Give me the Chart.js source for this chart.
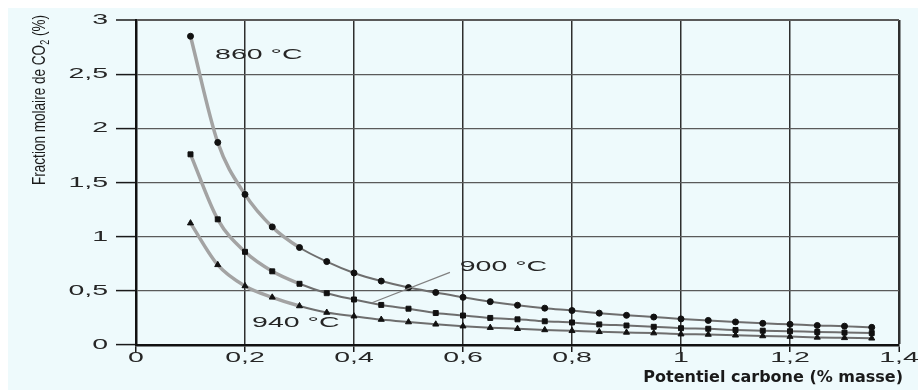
<!DOCTYPE html>
<html>
<head>
<meta charset="utf-8">
<title>Fraction molaire de CO2</title>
<script src="https://cdn.jsdelivr.net/npm/chart.js@4/dist/chart.umd.min.js"></script>
<style>
  html, body { margin: 0; padding: 0; background: #ffffff; }
  canvas { display: block; }
</style>
</head>
<body>
<canvas id="co2Chart" width="921" height="390"></canvas>
<script>
// carbon potential (% mass) of each measured point
const carbon = [0.1, 0.15, 0.2, 0.25, 0.3, 0.35, 0.4, 0.45, 0.5, 0.55, 0.6, 0.65, 0.7,
                0.75, 0.8, 0.85, 0.9, 0.95, 1.0, 1.05, 1.1, 1.15, 1.2, 1.25, 1.3, 1.35];

// CO2 molar fraction (%) for each temperature
const co2At860 = [2.85, 1.87, 1.39, 1.09, 0.90, 0.77, 0.665, 0.59, 0.53, 0.485, 0.44, 0.40, 0.367,
                  0.34, 0.318, 0.294, 0.274, 0.258, 0.241, 0.227, 0.213, 0.20, 0.191, 0.18, 0.174, 0.163];
const co2At900 = [1.76, 1.16, 0.86, 0.68, 0.565, 0.478, 0.42, 0.37, 0.335, 0.295, 0.272, 0.25, 0.237,
                  0.219, 0.208, 0.19, 0.18, 0.168, 0.155, 0.15, 0.139, 0.132, 0.127, 0.12, 0.115, 0.11];
const co2At940 = [1.125, 0.74, 0.545, 0.44, 0.36, 0.30, 0.266, 0.235, 0.212, 0.191, 0.174, 0.16, 0.15,
                  0.139, 0.131, 0.122, 0.116, 0.11, 0.10, 0.097, 0.09, 0.083, 0.078, 0.07, 0.066, 0.062];

const xTicks = [0, 0.2, 0.4, 0.6, 0.8, 1, 1.2, 1.4];
const yTicks = [0, 0.5, 1, 1.5, 2, 2.5, 3];

const xTitle = "Potentiel carbone (% masse)";
const yTitle = ["Fraction molaire de CO", "2", " (%)"];

// curve labels, anchored in data units (left edge, vertical middle)
const curveLabels = [
  { text: "860 °C", x: 0.145, y: 2.68 },
  { text: "900 °C", x: 0.594, y: 0.72 },
  { text: "940 °C", x: 0.213, y: 0.205 }
];
// leader line from the 900 °C label down to its curve
const leader = { from: [0.576, 0.67], to: [0.433, 0.39] };

const WIDE = 1.9; // horizontal stretch for the extended lettering

function toPoints(values) {
  return carbon.map((c, i) => ({ x: c, y: values[i] }));
}

function frNumber(v) {
  return String(Math.round(v * 10) / 10).replace(".", ",");
}

function wideText(ctx, text, x, y, align) {
  ctx.save();
  ctx.translate(x, y);
  ctx.scale(WIDE, 1);
  ctx.textAlign = align;
  ctx.fillText(text, 0, 0);
  ctx.restore();
}

const paperPlugin = {
  id: "paper",
  beforeDraw(chart) {
    const ctx = chart.ctx;
    ctx.save();
    ctx.fillStyle = "#ffffff";
    ctx.fillRect(0, 0, chart.width, chart.height);
    ctx.fillStyle = "#eefafc";
    ctx.fillRect(8, 8, chart.width - 11, chart.height - 8);
    ctx.restore();
  }
};

const textPlugin = {
  id: "texts",
  afterDraw(chart) {
    const ctx = chart.ctx;
    const xs = chart.scales.x;
    const ys = chart.scales.y;
    const area = chart.chartArea;

    ctx.save();
    ctx.fillStyle = "#262626";
    ctx.font = "15px 'Liberation Sans'";
    ctx.textBaseline = "middle";

    // tick labels
    xTicks.forEach(v => wideText(ctx, frNumber(v), xs.getPixelForValue(v), area.bottom + 13, "center"));
    yTicks.forEach(v => wideText(ctx, frNumber(v), area.left - 28, ys.getPixelForValue(v), "right"));

    // curve labels
    curveLabels.forEach(l => wideText(ctx, l.text, xs.getPixelForValue(l.x), ys.getPixelForValue(l.y), "left"));

    ctx.strokeStyle = "#808080";
    ctx.lineWidth = 1.2;
    ctx.beginPath();
    ctx.moveTo(xs.getPixelForValue(leader.from[0]), ys.getPixelForValue(leader.from[1]));
    ctx.lineTo(xs.getPixelForValue(leader.to[0]), ys.getPixelForValue(leader.to[1]));
    ctx.stroke();

    // x axis title, bold, right aligned under the axis
    ctx.fillStyle = "#1a1a1a";
    ctx.font = "bold 16px 'DejaVu Sans'";
    ctx.textAlign = "right";
    ctx.fillText(xTitle, area.right + 4, area.bottom + 33);

    // y axis title, condensed and rotated, with subscript 2
    ctx.font = "18px 'Liberation Sans'";
    const subFont = "12px 'Liberation Sans'";
    const w0 = ctx.measureText(yTitle[0]).width;
    const w2 = ctx.measureText(yTitle[2]).width;
    ctx.font = subFont;
    const w1 = ctx.measureText(yTitle[1]).width;
    const squeeze = 170 / (w0 + w1 + w2);
    ctx.save();
    ctx.translate(45, area.top + 165);
    ctx.rotate(-Math.PI / 2);
    ctx.scale(squeeze, 1);
    ctx.textAlign = "left";
    ctx.textBaseline = "alphabetic";
    ctx.font = "18px 'Liberation Sans'";
    ctx.fillText(yTitle[0], 0, 0);
    ctx.font = subFont;
    ctx.fillText(yTitle[1], w0, 4);
    ctx.font = "18px 'Liberation Sans'";
    ctx.fillText(yTitle[2], w0 + w1, 0);
    ctx.restore();

    ctx.restore();
  }
};

function series(label, values, style, radius) {
  return {
    label: label,
    data: toPoints(values),
    pointStyle: style,
    pointRadius: radius,
    pointBackgroundColor: "#111111",
    pointBorderColor: "#111111",
    pointBorderWidth: 1,
    borderColor: "#7a7a7a",
    borderWidth: 2,
    cubicInterpolationMode: "monotone",
    segment: {
      borderWidth: c => (c.p0.parsed.x < 0.3 ? 3.5 : 2),
      borderColor: c => (c.p0.parsed.x < 0.3 ? "#a3a3a3" : "#6e6e6e")
    }
  };
}

const isValue = (t, v) => t && Math.abs(t.value - v) < 1e-6;

new Chart(document.getElementById("co2Chart"), {
  type: "line",
  data: {
    datasets: [
      series("860 °C", co2At860, "circle", 3),
      series("900 °C", co2At900, "rect", 3.5),
      series("940 °C", co2At940, "triangle", 3.5)
    ]
  },
  options: {
    responsive: false,
    animation: false,
    layout: { padding: { left: 116, right: 22, top: 20, bottom: 38 } },
    plugins: {
      legend: { display: false },
      tooltip: { enabled: false }
    },
    scales: {
      x: {
        type: "linear",
        min: 0,
        max: 1.4,
        ticks: { display: false, stepSize: 0.2 },
        grid: {
          color: "#2e2e2e",
          lineWidth: c => (isValue(c.tick, 1.4) ? 2.5 : 1.5),
          tickLength: 7,
          tickColor: "#1a1a1a",
          tickWidth: 1.5
        },
        border: { display: true, color: "#111111", width: 2.5 }
      },
      y: {
        min: 0,
        max: 3,
        ticks: { display: false, stepSize: 0.5 },
        grid: {
          color: "#5a5a5a",
          lineWidth: c => (isValue(c.tick, 3) ? 2 : 1.2),
          tickLength: 20,
          tickColor: "#1a1a1a",
          tickWidth: 1.5
        },
        border: { display: true, color: "#111111", width: 2.5 }
      }
    }
  },
  plugins: [paperPlugin, textPlugin]
});
</script>
</body>
</html>
